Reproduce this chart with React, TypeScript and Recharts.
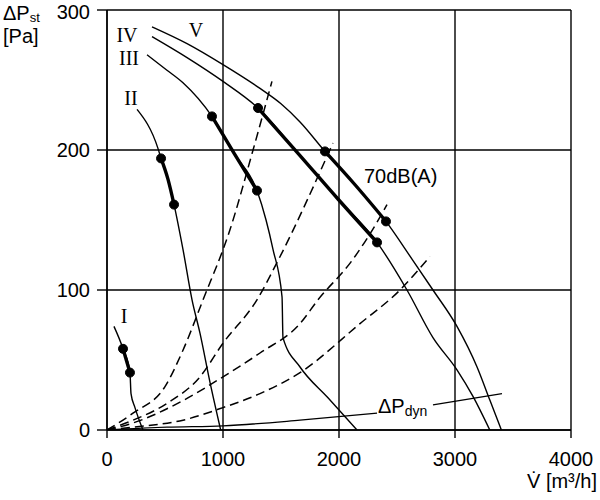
import { ComposedChart, Line, XAxis, YAxis, CartesianGrid } from 'recharts';

// Fan curves I–V: volume flow [m³/h] vs. static pressure rise [Pa]
const curve1Flow = [60, 138, 198, 207, 241, 310];
const curve1Press = [74, 58, 41, 26, 16, 0];
const curve1Bold = [1, 2];

const curve2Flow = [259, 440, 466, 526, 578, 655, 733, 802, 888, 980];
const curve2Press = [229, 201, 194, 179, 161, 129, 93, 69, 34, 0];
const curve2Bold = [2, 4];

const curve3Flow = [345, 517, 655, 905, 1100, 1293, 1371, 1431, 1509, 1517, 1664, 1905, 2155];
const curve3Press = [268, 257, 248, 224, 197, 171, 150, 129, 95, 66, 45, 23, 0];
const curve3Bold = [3, 5];

const curve4Flow = [388, 690, 1000, 1302, 1664, 1991, 2328, 2586, 2810, 3017, 3155, 3300];
const curve4Press = [281, 266, 249, 230, 196, 165, 134, 100, 66, 43, 24, 0];
const curve4Bold = [3, 6];

const curve5Flow = [388, 690, 1000, 1319, 1500, 1664, 1879, 2140, 2405, 2638, 2810, 3017, 3190, 3302, 3400];
const curve5Press = [288, 276, 261, 244, 233, 220, 199, 175, 149, 121, 100, 74, 45, 21, 0];
const curve5Bold = [6, 8];

// System (duct) characteristics, dashed
const sys1Flow = [0, 224, 500, 655, 828, 1060, 1259, 1422];
const sys1Press = [0, 12, 31, 57, 93, 143, 200, 249];
const sys2Flow = [0, 224, 517, 802, 1000, 1293, 1474, 1948];
const sys2Press = [0, 7, 19, 38, 62, 93, 121, 205];
const sys3Flow = [0, 224, 655, 1000, 1319, 1664, 1819, 2112, 2353, 2414];
const sys3Press = [0, 5, 21, 38, 55, 76, 93, 121, 152, 161];
const sys4Flow = [0, 224, 655, 1000, 1319, 1664, 2181, 2526, 2784];
const sys4Press = [0, 2, 7, 16, 26, 41, 76, 100, 124];

// Dynamic pressure, split around its label
const dynLeftFlow = [0, 517, 1000, 1664, 2328];
const dynLeftPress = [0, 2, 3, 7, 12];
const dynRightFlow = [2810, 3405];
const dynRightPress = [18, 26];

const flowTicks = [0, 1000, 2000, 3000, 4000];
const pressTicks = [0, 100, 200, 300];

const SANS = '"Liberation Sans", Arial, sans-serif';
const SERIF = '"Liberation Serif", "Times New Roman", serif';

const pts = (flow: number[], press: number[]) =>
  flow.map((v, i) => ({ v, p: press[i] }));

const curves = [
  { flow: curve1Flow, press: curve1Press, bold: curve1Bold },
  { flow: curve2Flow, press: curve2Press, bold: curve2Bold },
  { flow: curve3Flow, press: curve3Press, bold: curve3Bold },
  { flow: curve4Flow, press: curve4Press, bold: curve4Bold },
  { flow: curve5Flow, press: curve5Press, bold: curve5Bold },
];

const systems = [
  pts(sys1Flow, sys1Press),
  pts(sys2Flow, sys2Press),
  pts(sys3Flow, sys3Press),
  pts(sys4Flow, sys4Press),
];

export default function App() {
  const fanData = curves.map((c) => pts(c.flow, c.press));
  const boldData = curves.map((c, i) => fanData[i].slice(c.bold[0], c.bold[1] + 1));
  const dotData = curves.flatMap((c, i) => [fanData[i][c.bold[0]], fanData[i][c.bold[1]]]);

  return (
    <div style={{ position: 'absolute', left: 0, top: 0, width: 600, height: 500, background: '#fff' }}>
      <ComposedChart width={600} height={500} margin={{ top: 10, right: 29, bottom: 0, left: 0 }}>
        <CartesianGrid stroke="#000" strokeWidth={1.4} />
        <XAxis
          type="number"
          dataKey="v"
          domain={[0, 4000]}
          ticks={flowTicks}
          allowDataOverflow
          height={70}
          tickSize={8}
          tickMargin={14}
          stroke="#000"
          strokeWidth={1.4}
          tick={{ fill: '#000', fontSize: 20, fontFamily: SANS }}
        />
        <YAxis
          type="number"
          dataKey="p"
          domain={[0, 300]}
          ticks={pressTicks}
          allowDataOverflow
          width={107}
          tickSize={10}
          tickMargin={7}
          stroke="#000"
          strokeWidth={1.4}
          tick={{ fill: '#000', fontSize: 20, fontFamily: SANS }}
        />

        {systems.map((d, i) => (
          <Line
            key={`sys${i}`}
            data={d}
            dataKey="p"
            type="monotone"
            stroke="#000"
            strokeWidth={1.5}
            strokeDasharray="9 5"
            dot={false}
            isAnimationActive={false}
          />
        ))}
        <Line data={pts(dynLeftFlow, dynLeftPress)} dataKey="p" type="monotone" stroke="#000" strokeWidth={1.3} dot={false} isAnimationActive={false} />
        <Line data={pts(dynRightFlow, dynRightPress)} dataKey="p" type="monotone" stroke="#000" strokeWidth={1.3} dot={false} isAnimationActive={false} />

        {fanData.map((d, i) => (
          <Line key={`fan${i}`} data={d} dataKey="p" type="monotone" stroke="#000" strokeWidth={1.4} dot={false} isAnimationActive={false} />
        ))}
        {boldData.map((d, i) => (
          <Line key={`bold${i}`} data={d} dataKey="p" type="monotone" stroke="#000" strokeWidth={3.4} dot={false} isAnimationActive={false} />
        ))}
        <Line
          data={dotData}
          dataKey="p"
          stroke="none"
          dot={{ r: 4.5, fill: '#000', stroke: '#000', strokeWidth: 1 }}
          isAnimationActive={false}
        />

        <g fill="#000">
          <text x={3} y={20} fontSize={20} fontFamily={SANS}>
            ΔP<tspan fontSize={13} dy={2}>st</tspan>
          </text>
          <text x={3} y={43} fontSize={20} fontFamily={SANS}>[Pa]</text>
          <text x={597} y={488} fontSize={20} fontFamily={SANS} textAnchor="end">V̇ [m³/h]</text>
          <text x={364} y={183} fontSize={20} fontFamily={SANS}>70dB(A)</text>
          <text x={378} y={413} fontSize={20} fontFamily={SANS}>
            ΔP<tspan fontSize={14} dy={3}>dyn</tspan>
          </text>
          <text x={124} y={323} fontSize={20} fontFamily={SERIF} textAnchor="middle">I</text>
          <text x={131} y={105} fontSize={20} fontFamily={SERIF} textAnchor="middle">II</text>
          <text x={129} y={65} fontSize={20} fontFamily={SERIF} textAnchor="middle">III</text>
          <text x={127} y={42} fontSize={20} fontFamily={SERIF} textAnchor="middle">IV</text>
          <text x={196} y={37} fontSize={20} fontFamily={SERIF} textAnchor="middle">V</text>
        </g>
      </ComposedChart>
    </div>
  );
}
